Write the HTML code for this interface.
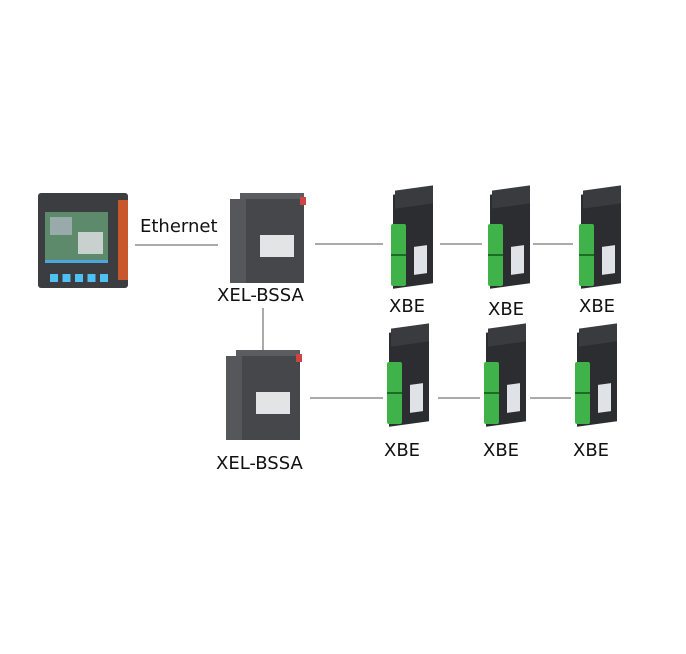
<!DOCTYPE html>
<html><head><style>
body{margin:0;width:686px;height:654px;background:#fff;position:relative;overflow:hidden;font-family:"Liberation Sans",sans-serif}
.a{position:absolute}
.ln{position:absolute;background:#aaa}
.t{position:absolute;font-size:18px;color:#111;font-family:"DejaVu Sans","Liberation Sans",sans-serif}
.xbe{position:absolute;width:48px;height:100px}
.xbe .b{position:absolute;left:6px;top:4px;width:40px;height:94px;background:#2c2d30;transform:skewY(-8deg)}
.xbe .top{position:absolute;left:8px;top:0;width:38px;height:18px;background:#3a3b3e;transform:skewY(-8deg)}
.xbe .g{position:absolute;left:4px;top:36px;width:15px;height:62px;background:#3fb34a;border-radius:2px}
.xbe .g2{position:absolute;left:4px;top:66px;width:15px;height:2px;background:#1d6b25}
.xbe .lab{position:absolute;left:27px;top:58px;width:13px;height:28px;background:#dfe3e8;transform:skewY(-8deg)}
.xel{position:absolute;width:78px;height:90px}
.xel .b{position:absolute;left:0;top:6px;width:74px;height:84px;background:#45474b}
.xel .l{position:absolute;left:0;top:6px;width:16px;height:84px;background:#55575b}
.xel .lab{position:absolute;left:30px;top:42px;width:34px;height:22px;background:#e2e4e6}
.xel .top{position:absolute;left:10px;top:0;width:64px;height:10px;background:#5a5c60}
.xel .r{position:absolute;left:70px;top:4px;width:6px;height:8px;background:#c44}
</style></head><body>
<div class="a" style="left:38px;top:193px;width:90px;height:95px;background:#3b3d41;border-radius:3px"></div>
<div class="a" style="left:118px;top:200px;width:10px;height:80px;background:#c8582c"></div>
<div class="a" style="left:45px;top:212px;width:63px;height:50px;background:#5c8a6a"></div>
<div class="a" style="left:50px;top:217px;width:22px;height:18px;background:#9aa"></div>
<div class="a" style="left:78px;top:232px;width:25px;height:22px;background:#c9d0d0"></div>
<div class="a" style="left:45px;top:260px;width:63px;height:3px;background:#4aa6e0"></div>
<div class="a" style="left:50px;top:274px;width:60px;height:8px;background:repeating-linear-gradient(90deg,#4ec0f2 0 8px,transparent 8px 12.5px)"></div>
<div class="ln" style="left:135px;top:244px;width:83px;height:2px"></div>
<div class="t" style="left:140px;top:216px">Ethernet</div>
<div class="xel" style="left:230px;top:193px"><div class="top"></div><div class="b"></div><div class="l"></div><div class="lab"></div><div class="r"></div></div>
<div class="t" style="left:217px;top:285px">XEL-BSSA</div>
<div class="ln" style="left:262px;top:308px;width:2px;height:42px"></div>
<div class="xel" style="left:226px;top:350px"><div class="top"></div><div class="b"></div><div class="l"></div><div class="lab"></div><div class="r"></div></div>
<div class="t" style="left:216px;top:453px">XEL-BSSA</div>
<div class="ln" style="left:315px;top:243px;width:68px;height:2px"></div>
<div class="ln" style="left:440px;top:243px;width:42px;height:2px"></div>
<div class="ln" style="left:533px;top:243px;width:40px;height:2px"></div>
<div class="ln" style="left:310px;top:397px;width:73px;height:2px"></div>
<div class="ln" style="left:438px;top:397px;width:42px;height:2px"></div>
<div class="ln" style="left:530px;top:397px;width:41px;height:2px"></div>
<div class="xbe" style="left:387px;top:188px"><div class="b"></div><div class="top"></div><div class="g"></div><div class="g2"></div><div class="lab"></div></div>
<div class="xbe" style="left:484px;top:188px"><div class="b"></div><div class="top"></div><div class="g"></div><div class="g2"></div><div class="lab"></div></div>
<div class="xbe" style="left:575px;top:188px"><div class="b"></div><div class="top"></div><div class="g"></div><div class="g2"></div><div class="lab"></div></div>
<div class="t" style="left:389px;top:296px">XBE</div>
<div class="t" style="left:488px;top:299px">XBE</div>
<div class="t" style="left:579px;top:296px">XBE</div>
<div class="xbe" style="left:383px;top:326px"><div class="b"></div><div class="top"></div><div class="g"></div><div class="g2"></div><div class="lab"></div></div>
<div class="xbe" style="left:480px;top:326px"><div class="b"></div><div class="top"></div><div class="g"></div><div class="g2"></div><div class="lab"></div></div>
<div class="xbe" style="left:571px;top:326px"><div class="b"></div><div class="top"></div><div class="g"></div><div class="g2"></div><div class="lab"></div></div>
<div class="t" style="left:384px;top:440px">XBE</div>
<div class="t" style="left:483px;top:440px">XBE</div>
<div class="t" style="left:573px;top:440px">XBE</div>
</body></html>
